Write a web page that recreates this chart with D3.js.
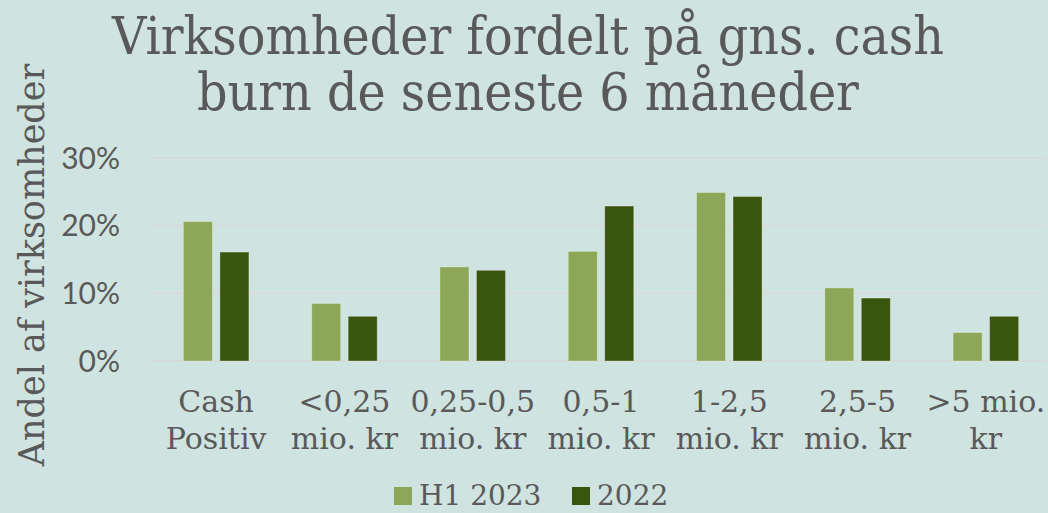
<!DOCTYPE html>
<html>
<head>
<meta charset="utf-8">
<script src="https://cdn.jsdelivr.net/npm/d3@7"></script>
<style>
  body { margin: 0; background: #cfe3e0; }
  #chart svg { display: block; }
</style>
</head>
<body>
<div id="chart"></div>
<script>
const categories = [
    ["Cash", "Positiv"],
    ["<0,25", "mio. kr"],
    ["0,25-0,5", "mio. kr"],
    ["0,5-1", "mio. kr"],
    ["1-2,5", "mio. kr"],
    ["2,5-5", "mio. kr"],
    [">5 mio.", "kr"]
];
const seriesNames = ["H1 2023", "2022"];
const h1_2023 = [0.206, 0.085, 0.139, 0.162, 0.249, 0.108, 0.042];
const y2022 = [0.161, 0.066, 0.134, 0.229, 0.243, 0.093, 0.066];
const yTicks = [0, 0.1, 0.2, 0.3];
const colors = ["#8ba757", "#3a550d"];

const width = 1048, height = 513;
const slabCond = "'DejaVu Serif Condensed', 'DejaVu Serif', serif";
const slab = "'DejaVu Serif', serif";
const textCol = "#595959";

const svg = d3.select('#chart')
    .append('svg')
    .attr('width', width)
    .attr('height', height);

svg.append('rect')
    .attr('width', width)
    .attr('height', height)
    .attr('fill', '#cfe3e0');

const plot = { left: 152, right: 1050, top: 158, bottom: 361 };

const x = d3.scaleBand()
    .domain(d3.range(categories.length))
    .range([plot.left, plot.right]);

const y = d3.scaleLinear()
    .domain([0, 0.3])
    .range([plot.bottom, plot.top]);

// grid lines
svg.append('g').selectAll('line').data(yTicks)
    .enter().append('line')
    .attr('x1', plot.left)
    .attr('x2', 1046)
    .attr('y1', d => y(d))
    .attr('y2', d => y(d))
    .attr('stroke', '#d9d9d9')
    .attr('stroke-width', 1.5);

// y tick labels
svg.append('g').selectAll('text').data(yTicks)
    .enter().append('text')
    .attr('x', 120)
    .attr('y', d => y(d))
    .attr('dy', '0.36em')
    .attr('text-anchor', 'end')
    .attr('font-family', 'Lato, sans-serif')
    .attr('font-size', 30)
    .attr('fill', textCol)
    .text(d3.format('.0%'));

// bars
const barW = 29, barGap = 7.5;
const series = [h1_2023, y2022];
series.forEach(function(vals, s) {
    svg.append('g').selectAll('rect').data(vals)
        .enter().append('rect')
        .attr('x', (d, i) => x(i) + x.bandwidth() / 2 + (s === 0 ? -barGap / 2 - barW : barGap / 2))
        .attr('y', d => y(d))
        .attr('width', barW)
        .attr('height', d => y(0) - y(d))
        .attr('fill', colors[s])
        .attr('stroke', 'rgba(255,255,255,0.3)')
        .attr('stroke-width', 1);
});

// category labels
const catG = svg.append('g').selectAll('text').data(categories)
    .enter().append('text')
    .attr('text-anchor', 'middle')
    .attr('font-family', slab)
    .attr('font-size', 30)
    .attr('fill', textCol);
catG.each(function(d, i) {
    const t = d3.select(this);
    d.forEach(function(line, j) {
        t.append('tspan')
            .attr('x', x(i) + x.bandwidth() / 2)
            .attr('y', 412 + j * 37)
            .text(line);
    });
});

// y axis title
svg.append('text')
    .attr('transform', 'translate(44, 265) rotate(-90)')
    .attr('text-anchor', 'middle')
    .attr('font-family', slab)
    .attr('font-size', 35)
    .attr('fill', textCol)
    .text('Andel af virksomheder');

// title
const titleLines = ["Virksomheder fordelt på gns. cash", "burn de seneste 6 måneder"];
svg.append('g').selectAll('text').data(titleLines)
    .enter().append('text')
    .attr('x', 528)
    .attr('y', (d, i) => 54 + i * 56)
    .attr('text-anchor', 'middle')
    .attr('font-family', slabCond)
    .attr('font-size', 53)
    .attr('fill', textCol)
    .text(d => d);

// legend
const legendX = [394, 572];
const legend = svg.append('g').selectAll('g').data(seriesNames)
    .enter().append('g')
    .attr('transform', (d, i) => `translate(${legendX[i]}, 0)`);
legend.append('rect')
    .attr('y', 487)
    .attr('width', 18)
    .attr('height', 18)
    .attr('fill', (d, i) => colors[i]);
legend.append('text')
    .attr('x', 25)
    .attr('y', 505)
    .attr('font-family', slab)
    .attr('font-size', 28)
    .attr('fill', textCol)
    .text(d => d);
</script>
</body>
</html>
